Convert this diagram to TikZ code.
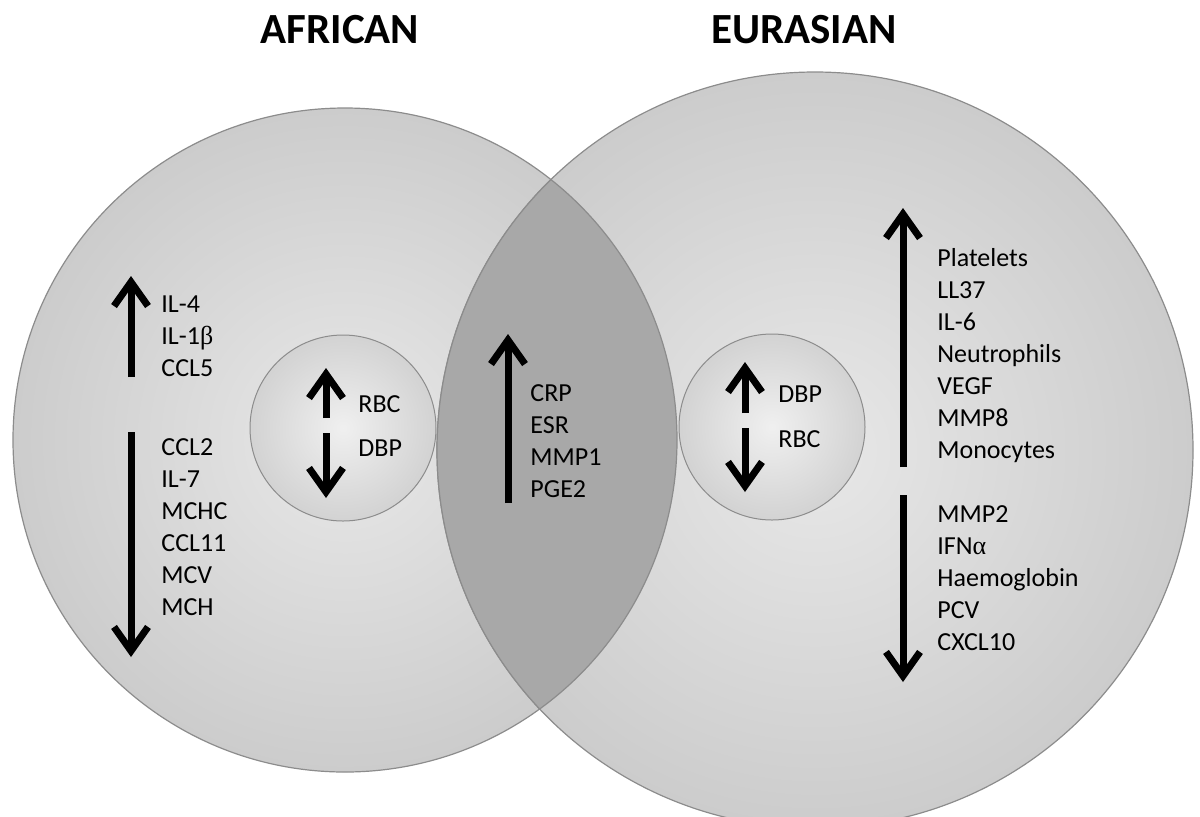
\documentclass[tikz,border=0pt]{standalone}
\usepackage{fontspec}
\setmainfont{Carlito}
\newfontfamily\greekfont{Liberation Serif}
\usetikzlibrary{arrows.meta}

\definecolor{rimgray}{HTML}{8C8C8C}
\definecolor{lensgray}{HTML}{A8A8A8}
\pgfdeclareradialshading{bigdisc}{\pgfpoint{0bp}{0bp}}{color(0bp)=(black!9); color(50bp)=(black!31)}
\pgfdeclareradialshading{smalldisc}{\pgfpoint{0bp}{0bp}}{color(0bp)=(black!6); color(50bp)=(black!29)}

\tikzset{
  region/.style={circle, draw=rimgray, line width=0.6pt, shading=bigdisc, inner sep=0pt},
  ball/.style={circle, draw=rimgray, line width=0.5pt, shading=smalldisc, inner sep=0pt},
  lbl/.style={anchor=west, inner sep=0pt, align=left, font=\fontsize{13}{16}\selectfont},
  ttl/.style={inner sep=0pt, font=\fontsize{21.5}{24}\selectfont\bfseries},
  trend/.style={line width=3.5pt, -{Straight Barb[length=12pt,width=17pt]}}
}

\begin{document}
\begin{tikzpicture}[x=0.5pt, y=-0.5pt]
        \useasboundingbox (0,0) rectangle (1200,816);

        \node[region, minimum size=332pt] (afr) at (345,440) {};
        \node[region, minimum size=378pt] (eur) at (815,450) {};

        % overlap
        \begin{scope}
            \clip (afr.center) circle (166pt);
            \fill[lensgray] (eur.center) circle (189pt);
            \draw[rimgray, line width=0.6pt] (eur.center) circle (189pt);
        \end{scope}
        \begin{scope}
            \clip (eur.center) circle (189pt);
            \draw[rimgray, line width=0.6pt] (afr.center) circle (166pt);
        \end{scope}

        \node[ball, minimum size=93pt] (afrball) at (343,428) {};
        \node[ball, minimum size=93pt] (eurball) at (772,427) {};

        \node[ttl] (afrtitle) at (340,30) {AFRICAN};
        \node[ttl] (eurtitle) at (804,30) {EURASIAN};

        \node[lbl] (afrup) at (161,336) {IL-4\\IL-1{\greekfont β}\\CCL5};
        \node[lbl] (afrdown) at (161,527) {CCL2\\IL-7\\MCHC\\CCL11\\MCV\\MCH};
        \node[lbl] (bothup) at (530,441) {CRP\\ESR\\MMP1\\PGE2};
        \node[lbl] (eurup) at (937,356) {Platelets\\LL37\\IL-6\\Neutrophils\\VEGF\\MMP8\\Monocytes};
        \node[lbl] (eurdown) at (937,578) {MMP2\\IFN{\greekfont α}\\Haemoglobin\\PCV\\CXCL10};

        \node[lbl] (afrrbc) at (358,404) {RBC};
        \node[lbl] (afrdbp) at (358,448) {DBP};
        \node[lbl] (eurdbp) at (778,394) {DBP};
        \node[lbl] (eurrbc) at (778,439) {RBC};

        \coordinate (a1) at (131,377);
        \coordinate (a2) at (131,276);
        \coordinate (a3) at (131,432);
        \coordinate (a4) at (131,657);
        \coordinate (b1) at (326,418);
        \coordinate (b2) at (326,368);
        \coordinate (b3) at (326,433);
        \coordinate (b4) at (326,498);
        \coordinate (c1) at (508,503);
        \coordinate (c2) at (508,334);
        \coordinate (d1) at (745,413);
        \coordinate (d2) at (745,362);
        \coordinate (d3) at (745,428);
        \coordinate (d4) at (745,492);
        \coordinate (e1) at (903,467);
        \coordinate (e2) at (903,208);
        \coordinate (e3) at (903,495);
        \coordinate (e4) at (903,682);

        \draw[trend] (a1) -- (a2);
        \draw[trend] (a3) -- (a4);
        \draw[trend] (b1) -- (b2);
        \draw[trend] (b3) -- (b4);
        \draw[trend] (c1) -- (c2);
        \draw[trend] (d1) -- (d2);
        \draw[trend] (d3) -- (d4);
        \draw[trend] (e1) -- (e2);
        \draw[trend] (e3) -- (e4);
\end{tikzpicture}
\end{document}
